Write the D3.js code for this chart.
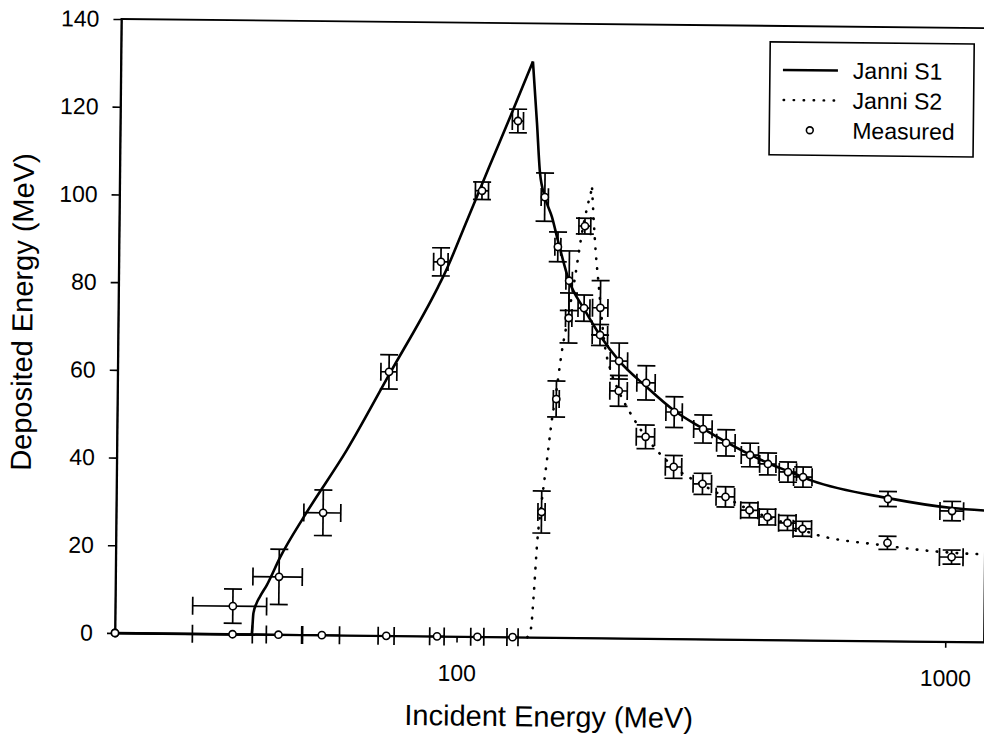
<!DOCTYPE html>
<html>
<head>
<meta charset="utf-8">
<script src="https://cdn.jsdelivr.net/npm/d3@7"></script>
<style>
  html, body { margin: 0; padding: 0; background: #fff; }
  svg { display: block; font-family: "Liberation Sans", Arial, Helvetica, sans-serif; }
</style>
</head>
<body>
<svg id="chart" width="984" height="742"></svg>
<script>
// ---- measured points (incident energy in MeV, deposited energy in MeV) ----
const measEnergy    = [20, 34.8, 43.2, 53.0, 71.8, 91.2, 110.3, 130.2, 148.3, 158.1, 167.0, 179.4, 193.7, 212.1, 241.3, 275.8, 316.2, 352.6, 395.0, 430.0, 472.8, 507.6, 758.0, 1026.0];
const measEnergyErr = [0, 6.0, 5.0, 4.6, 2.7, 3.1, 3.4, 3.4, 2.5, 2.2, 2.5, 5.0, 7.0, 8.7, 10.4, 10.6, 13.7, 15.3, 16.0, 16.5, 19.3, 22.0, 0, 57];
const measS1        = [0, 6.4, 13.2, 27.9, 60.2, 85.4, 101.7, 117.7, 100.4, 89.1, 81.4, 75.2, 69.1, 63.2, 58.3, 51.7, 47.9, 44.8, 42.1, 40.1, 38.3, 37.2, 32.4, 29.8];
const measS1Err     = [0, 3.9, 6.3, 5.2, 3.9, 3.2, 2.0, 2.7, 5.5, 3.4, 6.8, 3.0, 2.4, 4.1, 3.9, 3.5, 3.2, 3.0, 2.7, 2.5, 2.3, 2.3, 1.7, 2.2];
const measS2        = [0, 0, 0, 0, 0, 0, 0, 0, 28.6, 54.4, 72.9, 93.9, 75.3, 56.4, 46.0, 39.2, 35.4, 32.5, 29.5, 28.0, 26.7, 25.4, 22.4, 19.3];
const measS2Err     = [0, 0, 0, 0, 0, 0, 0, 0, 4.8, 4.1, 5.7, 1.8, 6.2, 3.5, 2.7, 2.6, 2.4, 2.3, 1.7, 1.8, 1.7, 1.7, 1.5, 1.6];

// ---- Janni range-energy calculations for the two detectors ----
const janniS1Energy = [20, 38.1, 38.2, 38.35, 38.9, 39.5, 40.8, 43.4, 48.7, 59.1, 71.8, 90.1, 93.0, 102.9, 113.8, 126.0, 139.3, 142.4, 144.8, 148.4, 153.5, 158.1, 166.9, 179.4, 193.7, 212, 241, 276, 316, 353, 395, 430, 473, 529, 758, 1026, 1200];
const janniS1Dep    = [0, 0, 1.8, 4.8, 7.1, 8.6, 11.3, 17.7, 27.4, 42.3, 59.5, 79.7, 82.9, 94.9, 107.0, 119.1, 131.3, 117.3, 105.9, 100.4, 95.9, 90.5, 81.4, 75.0, 69.0, 63.3, 57.5, 52.0, 48.0, 45.0, 42.2, 40.3, 38.5, 36.4, 32.6, 30.5, 30.0];
const janniS1Knots  = [38.1, 139.3];   // threshold and full-stop cusps

const janniS2Energy = [139.5, 141.9, 143.4, 145.6, 148.0, 151.6, 155.0, 158.0, 161.8, 167.0, 171.7, 176.8, 181.0, 185.2, 187.0, 189.0, 192.0, 195.0, 198.0, 204.0, 212.0, 227.6, 241.5, 276, 316, 353, 395, 430, 473, 530, 732, 1026, 1200];
const janniS2Dep    = [0, 2, 9, 22, 30, 40, 49.6, 56, 65, 74, 82.3, 92, 98, 102.5, 95, 88, 80.5, 73, 67, 61, 56.4, 50.2, 46.0, 39.2, 35.2, 32.4, 29.6, 28.0, 26.5, 24.4, 21.9, 20.3, 20.0];
const janniS2Knots  = [185.2];

// ---- axes ----
const yTicks = [0, 20, 40, 60, 80, 100, 120, 140];
const xTicks = [100, 1000];
const xTitle = "Incident Energy (MeV)";
const yTitle = "Deposited Energy (MeV)";
const legendLabels = ["Janni S1", "Janni S2", "Measured"];

// ---- layout ----
const plotLeft = 115, plotRight = 984, plotTop = 19, plotBottom = 633;
const FONT = '"Liberation Sans", Arial, Helvetica, sans-serif';

const x = d3.scaleLog().domain([20, 1200]).range([plotLeft, plotRight]);
const y = d3.scaleLinear().domain([0, 140]).range([plotBottom, plotTop]);

const svg = d3.select("#chart");
svg.append("rect").attr("width", 984).attr("height", 742).attr("fill", "#fff");

// the whole figure sits slightly tilted on the page
const g = svg.append("g").attr("transform", `rotate(0.6, ${plotLeft}, ${plotBottom})`);

// plot frame
g.append("rect")
  .attr("x", plotLeft).attr("y", plotTop)
  .attr("width", plotRight - plotLeft).attr("height", plotBottom - plotTop)
  .attr("fill", "none").attr("stroke", "#000").attr("stroke-width", 1.8);

// y axis
const yAxis = d3.axisLeft(y).tickValues(yTicks).tickSize(8).tickSizeOuter(0).tickPadding(14).tickFormat(d3.format("d"));
g.append("g").attr("transform", `translate(${plotLeft},0)`).call(yAxis)
  .call(a => {
    a.attr("font-family", FONT).attr("font-size", 23);
    a.select(".domain").attr("stroke", "#000").attr("stroke-width", 1.8);
    a.selectAll(".tick line").attr("stroke", "#000").attr("stroke-width", 1.6);
    a.selectAll(".tick text").attr("fill", "#000");
  });

// x axis
const xAxis = d3.axisBottom(x).tickValues(xTicks).tickSize(6).tickSizeOuter(0).tickPadding(22).tickFormat(d3.format("d"));
g.append("g").attr("transform", `translate(0,${plotBottom})`).call(xAxis)
  .call(a => {
    a.attr("font-family", FONT).attr("font-size", 23);
    a.select(".domain").attr("stroke", "#000").attr("stroke-width", 1.8);
    a.selectAll(".tick line").attr("stroke", "#000").attr("stroke-width", 1.6);
    a.selectAll(".tick text").attr("fill", "#000");
  });

// axis titles
g.append("text")
  .attr("x", (plotLeft + plotRight) / 2).attr("y", 722)
  .attr("text-anchor", "middle").attr("font-family", FONT).attr("font-size", 29)
  .text(xTitle);
g.append("text")
  .attr("transform", "translate(29,313) rotate(-90)")
  .attr("text-anchor", "middle").attr("font-family", FONT).attr("font-size", 29)
  .text(yTitle);

// model curves, drawn piecewise between the cusps
function segments(es, vs, knots) {
  const pts = es.map((e, i) => [e, vs[i]]);
  const segs = [];
  let cur = [];
  pts.forEach(p => {
    cur.push(p);
    if (knots.includes(p[0])) { segs.push(cur); cur = [p]; }
  });
  if (cur.length > 1) segs.push(cur);
  return segs;
}
const line = d3.line().x(d => x(d[0])).y(d => y(d[1])).curve(d3.curveMonotoneX);

const curves = g.append("g").attr("fill", "none").attr("stroke", "#000");
segments(janniS1Energy, janniS1Dep, janniS1Knots).forEach(s => {
  curves.append("path").attr("d", line(s)).attr("stroke-width", 2.6)
    .attr("stroke-linejoin", "round");
});
segments(janniS2Energy, janniS2Dep, janniS2Knots).forEach(s => {
  curves.append("path").attr("d", line(s)).attr("stroke-width", 2.6)
    .attr("stroke-linecap", "round").attr("stroke-dasharray", "0.5 9.5");
});

// measured points with error bars
const CAP = 9;
function drawMeasured(vals, errs) {
  const eb = g.append("g").attr("stroke", "#000").attr("stroke-width", 1.7).attr("fill", "none");
  measEnergy.forEach((e, i) => {
    const cx = x(e), cy = y(vals[i]);
    const dv = errs[i], de = measEnergyErr[i];
    if (dv > 0) {
      const y1 = y(vals[i] + dv), y2 = y(vals[i] - dv);
      eb.append("line").attr("x1", cx).attr("x2", cx).attr("y1", y1).attr("y2", y2);
      eb.append("line").attr("x1", cx - CAP).attr("x2", cx + CAP).attr("y1", y1).attr("y2", y1);
      eb.append("line").attr("x1", cx - CAP).attr("x2", cx + CAP).attr("y1", y2).attr("y2", y2);
    }
    if (de > 0) {
      const x1 = x(e - de), x2 = x(e + de);
      eb.append("line").attr("x1", x1).attr("x2", x2).attr("y1", cy).attr("y2", cy);
      eb.append("line").attr("x1", x1).attr("x2", x1).attr("y1", cy - CAP).attr("y2", cy + CAP);
      eb.append("line").attr("x1", x2).attr("x2", x2).attr("y1", cy - CAP).attr("y2", cy + CAP);
    }
  });
  g.append("g").selectAll("circle").data(measEnergy).join("circle")
    .attr("cx", d => x(d)).attr("cy", (d, i) => y(vals[i])).attr("r", 3.6)
    .attr("fill", "#fff").attr("stroke", "#000").attr("stroke-width", 1.6);
}
drawMeasured(measS2, measS2Err);
drawMeasured(measS1, measS1Err);

// legend
const lg = g.append("g");
lg.append("rect").attr("x", 764).attr("y", 35).attr("width", 204).attr("height", 113)
  .attr("fill", "#fff").attr("stroke", "#000").attr("stroke-width", 1.6);
const rows = [71, 101, 131];
lg.append("line").attr("x1", 777).attr("x2", 832).attr("y1", rows[0] - 8).attr("y2", rows[0] - 8)
  .attr("stroke", "#000").attr("stroke-width", 2.4);
lg.append("line").attr("x1", 778).attr("x2", 832).attr("y1", rows[1] - 8).attr("y2", rows[1] - 8)
  .attr("stroke", "#000").attr("stroke-width", 2.4).attr("stroke-linecap", "round").attr("stroke-dasharray", "0.5 9.5");
lg.append("circle").attr("cx", 804.5).attr("cy", rows[2] - 8).attr("r", 3.4)
  .attr("fill", "#fff").attr("stroke", "#000").attr("stroke-width", 1.6);
legendLabels.forEach((t, i) => {
  lg.append("text").attr("x", 847).attr("y", rows[i])
    .attr("font-family", FONT).attr("font-size", 23).attr("fill", "#000").text(t);
});
</script>
</body>
</html>
